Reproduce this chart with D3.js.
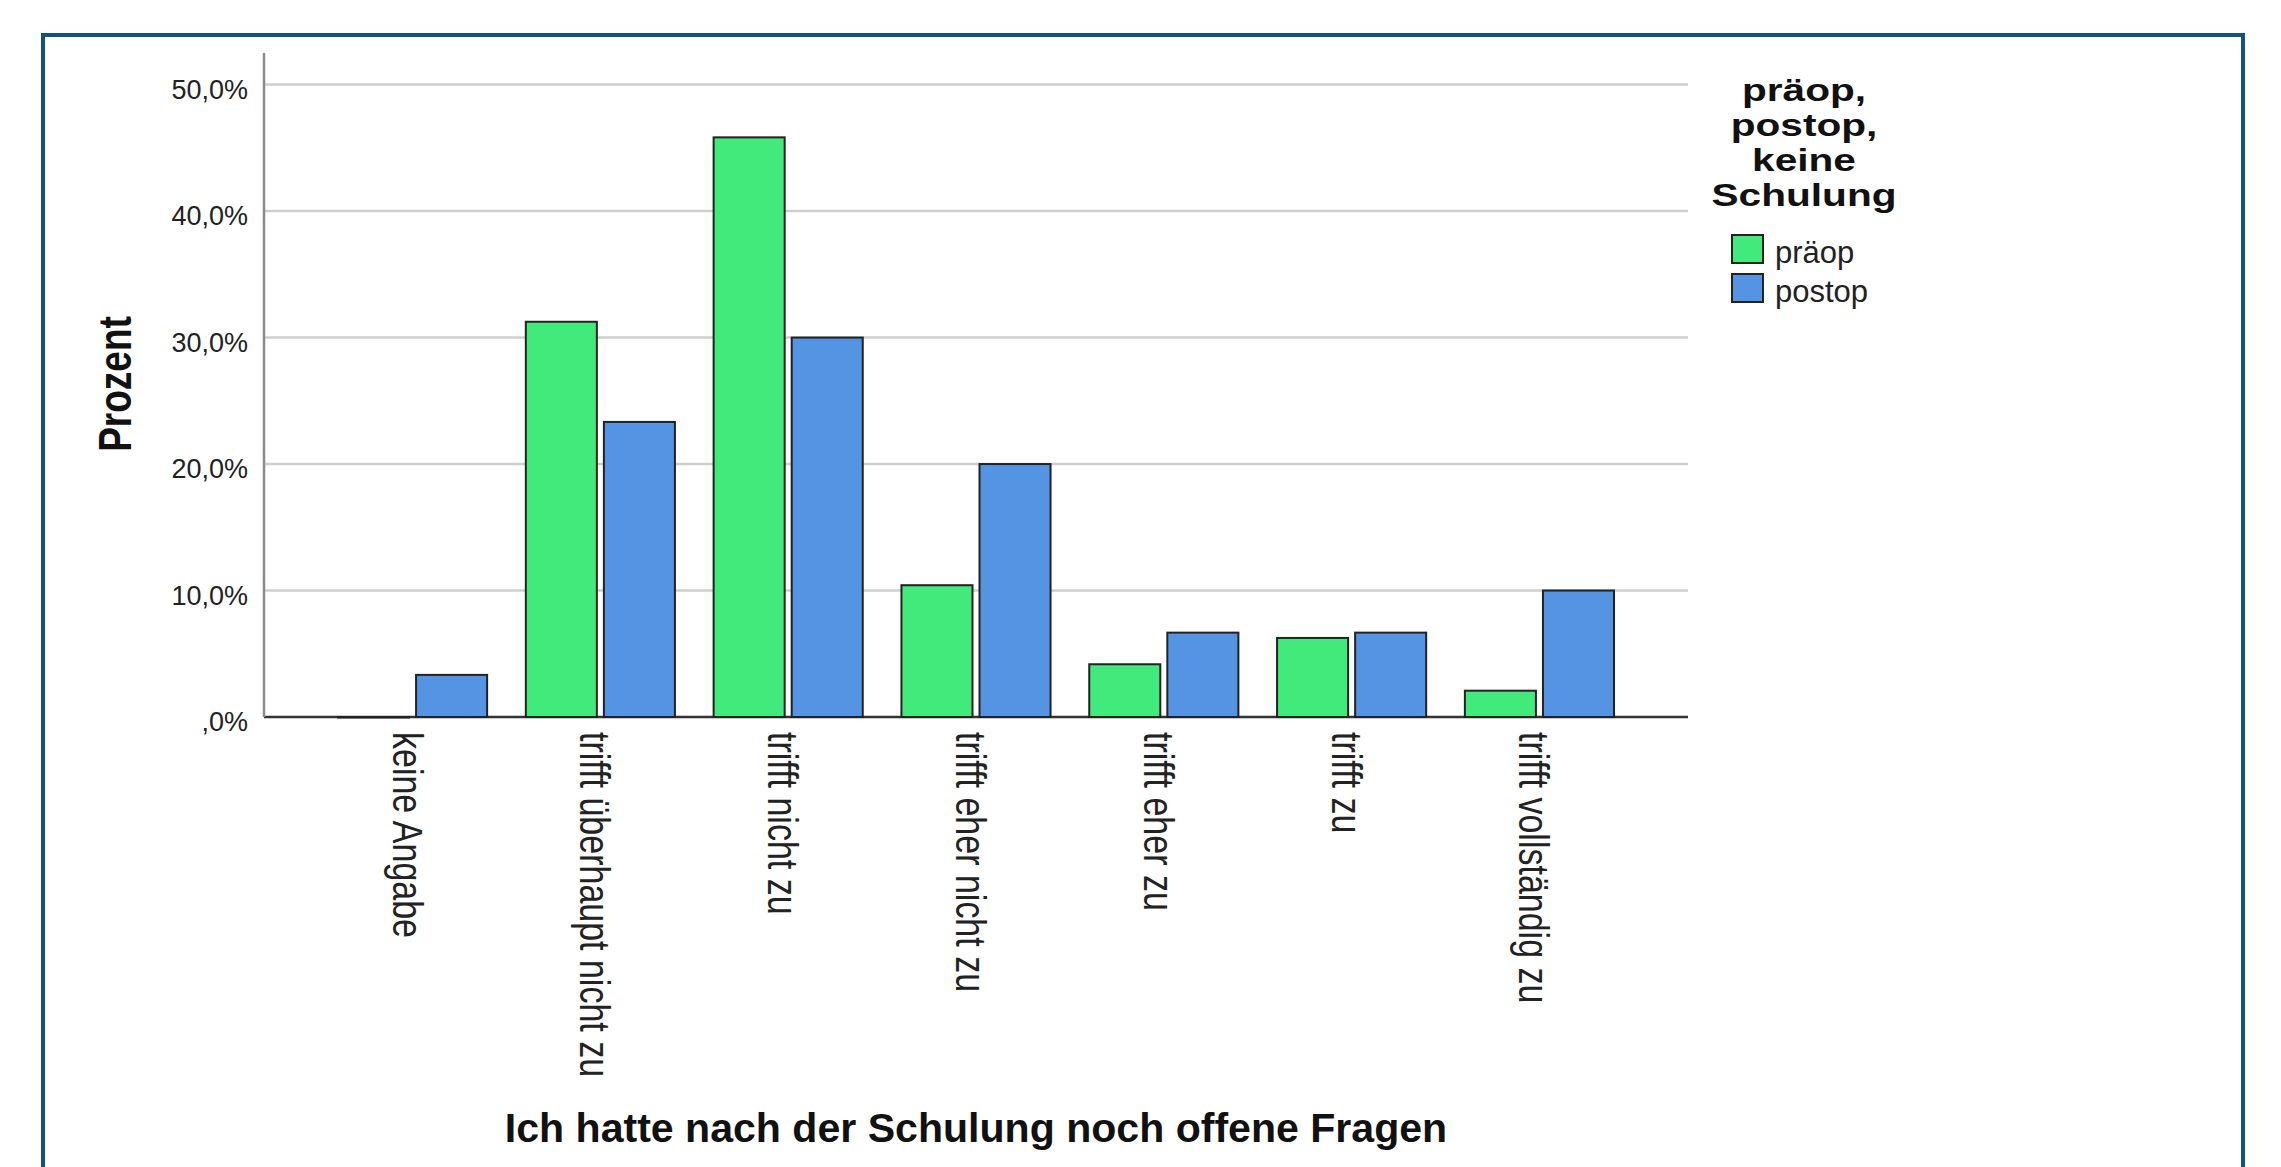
<!DOCTYPE html>
<html>
<head>
<meta charset="utf-8">
<script src="https://cdn.jsdelivr.net/npm/d3@7"></script>
<style>
    body { margin: 0; background: #ffffff; }
    svg { display: block; }
</style>
</head>
<body>
<div id="chart"></div>
<script>
// Chart data (Prozent je Antwortkategorie)
const categories = [
    'keine Angabe',
    'trifft überhaupt nicht zu',
    'trifft nicht zu',
    'trifft eher nicht zu',
    'trifft eher zu',
    'trifft zu',
    'trifft vollständig zu'
];
const seriesNames = ['präop', 'postop'];
const praeopValues = [0, 31.25, 45.83, 10.42, 4.17, 6.25, 2.08];
const postopValues = [3.33, 23.33, 30.0, 20.0, 6.67, 6.67, 10.0];
const yTickValues = [0, 10, 20, 30, 40, 50];
const yTickLabels = [',0%', '10,0%', '20,0%', '30,0%', '40,0%', '50,0%'];
const legendTitleLines = ['präop,', 'postop,', 'keine', 'Schulung'];
const yAxisTitle = 'Prozent';
const xAxisTitle = 'Ich hatte nach der Schulung noch offene Fragen';

const seriesColors = ['#41ea7b', '#5494e2'];
const font = '"Liberation Sans", Arial, sans-serif';

const width = 2281;
const height = 1167;
const plot = { left: 264, right: 1688, top: 53, bottom: 717 };

const svg = d3.select('#chart')
    .append('svg')
    .attr('width', width)
    .attr('height', height)
    .style('background-color', '#ffffff');

// Frame around the chart
svg.append('rect')
    .attr('x', 43)
    .attr('y', 35)
    .attr('width', 2200)
    .attr('height', 1200)
    .attr('fill', 'none')
    .attr('stroke', '#155378')
    .attr('stroke-width', 4);

// Scales
const x0 = d3.scaleBand()
    .domain(categories)
    .range([plot.left, plot.right])
    .paddingInner(0.206)
    .paddingOuter(0.394);

const x1 = d3.scaleBand()
    .domain(seriesNames)
    .range([0, x0.bandwidth()])
    .paddingInner(0.09);

const y = d3.scaleLinear()
    .domain([0, 52.5])
    .range([plot.bottom, plot.top]);

const color = d3.scaleOrdinal().domain(seriesNames).range(seriesColors);

// Gridlines
svg.append('g')
    .attr('class', 'grid')
    .selectAll('line')
    .data(yTickValues.filter(d => d > 0))
    .enter()
    .append('line')
    .attr('x1', plot.left)
    .attr('x2', plot.right)
    .attr('y1', d => y(d))
    .attr('y2', d => y(d))
    .attr('stroke', '#cfcfcf')
    .attr('stroke-width', 2.5);

// X axis with rotated category labels
const xAxis = d3.axisBottom(x0).tickSize(0).tickPadding(0);

const xAxisGroup = svg.append('g')
    .attr('class', 'x-axis')
    .attr('transform', `translate(0,${plot.bottom})`)
    .call(xAxis);

xAxisGroup.select('.domain')
    .attr('d', `M${plot.left},0H${plot.right}`)
    .attr('stroke', '#333333')
    .attr('stroke-width', 2.5);

xAxisGroup.selectAll('text')
    .attr('x', 0)
    .attr('y', 16)
    .attr('dy', 0)
    .attr('text-anchor', 'start')
    .attr('transform', 'translate(0,15) rotate(90) scale(1,1.25)')
    .attr('font-family', font)
    .attr('font-size', 34)
    .attr('fill', '#222222');

// Bars (drawn after the baseline so an empty bar still shows as a line)
const rows = categories.map((c, i) => ({
    category: c,
    values: [
        { series: seriesNames[0], value: praeopValues[i] },
        { series: seriesNames[1], value: postopValues[i] }
    ]
}));

const groups = svg.append('g')
    .attr('class', 'bars')
    .selectAll('g')
    .data(rows)
    .enter()
    .append('g')
    .attr('transform', d => `translate(${x0(d.category)},0)`);

groups.selectAll('rect')
    .data(d => d.values)
    .enter()
    .append('rect')
    .attr('x', d => x1(d.series))
    .attr('y', d => y(d.value))
    .attr('width', x1.bandwidth())
    .attr('height', d => Math.max(y(0) - y(d.value), 0.5))
    .attr('fill', d => color(d.series))
    .attr('stroke', '#222222')
    .attr('stroke-width', 2);

// Y axis
const yAxis = d3.axisLeft(y)
    .tickValues(yTickValues)
    .tickSize(0)
    .tickPadding(16)
    .tickFormat((d, i) => yTickLabels[i]);

const yAxisGroup = svg.append('g')
    .attr('class', 'y-axis')
    .attr('transform', `translate(${plot.left},0)`)
    .call(yAxis);

yAxisGroup.select('.domain').remove();
yAxisGroup.selectAll('text')
    .attr('dy', '0.5em')
    .attr('font-family', font)
    .attr('font-size', 27)
    .attr('fill', '#222222');

svg.append('line')
    .attr('x1', plot.left)
    .attr('x2', plot.left)
    .attr('y1', plot.top)
    .attr('y2', plot.bottom)
    .attr('stroke', '#8a8a8a')
    .attr('stroke-width', 2.5);

// Axis titles
svg.append('text')
    .attr('transform', 'translate(131,384) rotate(-90) scale(1,1.25)')
    .attr('text-anchor', 'middle')
    .attr('font-family', font)
    .attr('font-size', 37)
    .attr('font-weight', 'bold')
    .attr('fill', '#111111')
    .text(yAxisTitle);

svg.append('text')
    .attr('transform', `translate(${(plot.left + plot.right) / 2},1142) scale(1.027,1)`)
    .attr('text-anchor', 'middle')
    .attr('font-family', font)
    .attr('font-size', 40)
    .attr('font-weight', 'bold')
    .attr('fill', '#111111')
    .text(xAxisTitle);

// Legend
const legend = svg.append('g').attr('class', 'legend');

legend.selectAll('text.legend-title')
    .data(legendTitleLines)
    .enter()
    .append('text')
    .attr('class', 'legend-title')
    .attr('transform', (d, i) => `translate(1804,${101 + i * 35})`)
    .attr('text-anchor', 'middle')
    .attr('font-family', font)
    .attr('font-size', 32)
    .attr('font-weight', 'bold')
    .attr('fill', '#111111')
    .attr('transform', (d, i) => `translate(1804,${101 + i * 35}) scale(1.27,1)`)
    .text(d => d);

const legendItems = legend.selectAll('g.legend-item')
    .data(seriesNames)
    .enter()
    .append('g')
    .attr('class', 'legend-item')
    .attr('transform', (d, i) => `translate(1732,${235 + i * 39})`);

legendItems.append('rect')
    .attr('width', 31)
    .attr('height', 28)
    .attr('fill', d => color(d))
    .attr('stroke', '#222222')
    .attr('stroke-width', 2);

legendItems.append('text')
    .attr('x', 43)
    .attr('y', 28)
    .attr('font-family', font)
    .attr('font-size', 31)
    .attr('fill', '#222222')
    .text(d => d);
</script>
</body>
</html>
